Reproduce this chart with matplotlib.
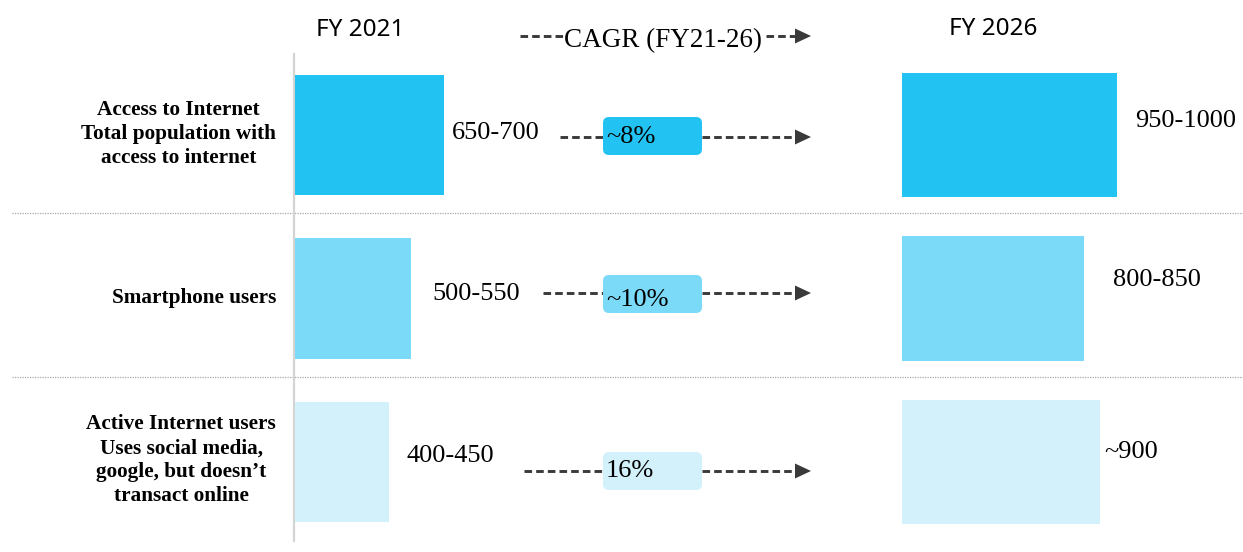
import matplotlib
matplotlib.use("Agg")
import matplotlib.pyplot as plt
from matplotlib.patches import FancyBboxPatch, Polygon

# data
categories = ["Access to Internet\nTotal population with\naccess to internet",
              "Smartphone users",
              "Active Internet users\nUses social media,\ngoogle, but doesn\u2019t\ntransact online"]
fy21_mid = [675, 525, 425]
fy21_labels = ["650-700", "500-550", "400-450"]
fy26_mid = [975, 825, 900]
fy26_labels = ["950-1000", "800-850", "~900"]
cagr_labels = ["~8%", "~10%", "16%"]

COLORS = ["#22C3F2", "#7ADAF8", "#D3F1FB"]
ARROW = "#3a3a3a"
SERIF = "Liberation Serif"
W, H = 1243, 552

fig = plt.figure(figsize=(W / 100, H / 100), dpi=100)

# pixel-space overlay for layout furniture
bg = fig.add_axes([0, 0, 1, 1])
bg.set_xlim(0, W); bg.set_ylim(H, 0); bg.axis("off")

for y in (212.5, 377):
    bg.plot([12, W], [y, y], color="#aaaaaa", lw=0.9, ls=(0, (1, 1)))
bg.plot([294, 294], [54, 541], color="#d4d4d4", lw=1.6)

bg.text(360, 30, "FY 2021", fontsize=17.5, family="Noto Sans", ha="center", va="center")
bg.text(993, 29, "FY 2026", fontsize=17.5, family="Noto Sans", ha="center", va="center")
bg.text(663, 41, "CAGR (FY21-26)", fontsize=19.5, family=SERIF, ha="center", va="center")


def dashed_arrow(x0, x1, y, head=True):
    end = x1 - 14 if head else x1
    bg.plot([x0, end], [y, y], color=ARROW, lw=2.1, dashes=(2.6, 1.4), solid_capstyle="butt")
    if head:
        bg.add_patch(Polygon([[x1 - 16, y - 7.5], [x1, y], [x1 - 16, y + 7.5]],
                             closed=True, color=ARROW, lw=0))


dashed_arrow(520, 563, 36, head=False)
dashed_arrow(766, 811, 36)

cat_y = [134, 298, 460]
arrow_y = [137, 293, 471]
box_top = [117, 275, 452]
left_start = [560, 543, 524]
text_dy = [1, 6, 0]
for i in range(3):
    bg.text(276, cat_y[i], categories[i], fontsize=15.3, family=SERIF, weight="bold",
            ha="right", va="center", multialignment="center", linespacing=1.25)
    dashed_arrow(left_start[i], 603, arrow_y[i], head=False)
    dashed_arrow(702, 811, arrow_y[i])
    bg.add_patch(FancyBboxPatch((603, box_top[i]), 99, 38,
                                boxstyle="round,pad=0,rounding_size=6",
                                fc=COLORS[i], ec="none", zorder=3))
    bg.text(606, box_top[i] + 19 + text_dy[i], cagr_labels[i], fontsize=19, family=SERIF,
            ha="left", va="center", zorder=4)

# bars: x scale 0.22 px per unit, rows 163.5 px apart
ylim = ((H - 135) / 163.5, -135 / 163.5)
ax21 = fig.add_axes([295 / W, 0, 220 / W, 1])
ax26 = fig.add_axes([902 / W, 0, 220 / W, 1])
rows = range(3)
ax21.barh(rows, fy21_mid, height=0.74, color=COLORS)
ax26.barh(rows, fy26_mid, height=0.76, color=COLORS)

off21 = [(8, -2), (22, -4), (18, -6)]
off26 = [(19, -14), (30, -18), (4, -10)]
for ax, vals, labs, offs in ((ax21, fy21_mid, fy21_labels, off21),
                             (ax26, fy26_mid, fy26_labels, off26)):
    ax.set_xlim(0, 1000)
    ax.set_ylim(*ylim)
    ax.axis("off")
    ax.patch.set_alpha(0)
    for r, v, lab, (dx, dy) in zip(rows, vals, labs, offs):
        ax.annotate(lab, (v, r), xytext=(dx, -dy), textcoords="offset pixels",
                    fontsize=19, family=SERIF, ha="left", va="center", annotation_clip=False)

fig.savefig("out.png", dpi=100, facecolor="white")
